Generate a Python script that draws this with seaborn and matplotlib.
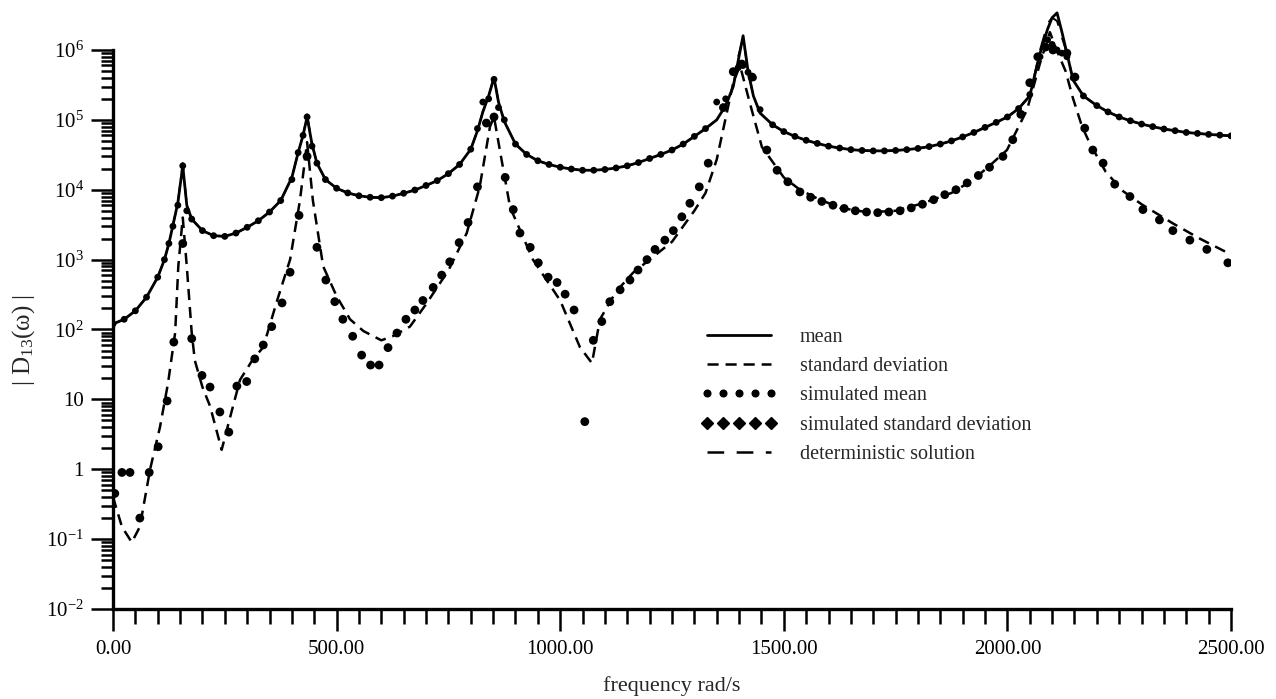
import numpy as np
import matplotlib
matplotlib.use('Agg')
import matplotlib.pyplot as plt
import matplotlib.ticker as mticker
from matplotlib.lines import Line2D
import seaborn as sns

# frequency grid for mean / simulated mean / deterministic curves
freq = [0, 25, 50, 75, 100, 115, 125, 134, 145, 156, 165, 176, 200, 225, 250, 275, 300, 325, 350, 375,
        400, 414, 425, 434, 445, 456, 475, 500, 525, 550, 575, 600, 625, 650, 675, 700, 725, 750, 775, 800,
        815, 827, 840, 852, 862, 875, 900, 925, 950, 975, 1000, 1025, 1050, 1075, 1100, 1125, 1150, 1175,
        1200, 1225, 1250, 1275, 1300, 1325, 1350, 1370, 1387, 1398, 1409, 1420, 1432, 1447, 1475, 1500,
        1525, 1550, 1575, 1600, 1625, 1650, 1675, 1700, 1725, 1750, 1775, 1800, 1825, 1850, 1875, 1900,
        1925, 1950, 1975, 2000, 2025, 2050, 2073, 2090, 2100, 2111, 2122, 2133, 2147, 2170, 2200, 2225,
        2250, 2275, 2300, 2325, 2350, 2375, 2400, 2425, 2450, 2475, 2500]

mean = [120, 140, 185, 290, 560, 1000, 1700, 3100, 6500, 22000, 6000, 3800, 2600, 2200, 2150, 2400, 2900, 3600, 4800, 7000,
        15000, 34000, 60000, 110000, 45000, 24000, 14000, 10500, 9000, 8200, 7800, 7700, 8100, 8900, 9900, 11500, 13500, 17000, 23000, 38000,
        70000, 130000, 220000, 400000, 180000, 95000, 45000, 32000, 26000, 23000, 21000, 19800, 19000, 19000, 19500, 20500, 22000, 24500,
        28000, 32000, 37000, 45000, 58000, 75000, 100000, 160000, 300000, 700000, 1600000, 500000, 220000, 125000, 85000, 68000,
        58000, 51000, 46000, 42000, 39500, 37500, 36500, 36000, 36000, 36500, 37500, 39000, 41500, 45000, 50000, 57000,
        66000, 78000, 92000, 110000, 145000, 220000, 900000, 2000000, 2900000, 3400000, 1800000, 900000, 370000, 220000, 160000, 130000,
        110000, 97000, 87000, 80000, 74000, 70000, 66000, 64000, 62000, 60500, 59000]

sim_mean = [120, 140, 185, 290, 560, 1000, 1700, 3000, 6000, 22000, 5000, 3800, 2600, 2200, 2150, 2400, 2900, 3600, 4800, 7000,
            14000, 34000, 60000, 110000, 42000, 24000, 14000, 10500, 9000, 8200, 7800, 7700, 8100, 8900, 9900, 11500, 13500, 17000, 23000, 38000,
            75000, 180000, 200000, 380000, 150000, 100000, 45000, 32000, 26000, 23000, 21000, 19800, 19000, 19000, 19500, 20500, 22000, 24500,
            28000, 32000, 37000, 45000, 58000, 75000, 180000, 200000, 480000, 560000, 600000, 480000, 400000, 140000, 85000, 68000,
            58000, 51000, 46000, 42000, 39500, 37500, 36500, 36000, 36000, 36500, 37500, 39000, 41500, 45000, 50000, 57000,
            66000, 78000, 92000, 110000, 145000, 230000, 800000, 1400000, 1200000, 1000000, 900000, 800000, 400000, 220000, 160000, 130000,
            110000, 97000, 87000, 80000, 74000, 70000, 66000, 64000, 62000, 60500, 59000]

deterministic = [120, 140, 185, 290, 560, 1000, 1700, 3100, 6500, 24000, 6000, 3800, 2600, 2200, 2150, 2400, 2900, 3600, 4800, 7000,
                 15000, 34000, 60000, 120000, 45000, 24000, 14000, 10500, 9000, 8200, 7800, 7700, 8100, 8900, 9900, 11500, 13500, 17000, 23000, 38000,
                 70000, 130000, 220000, 420000, 180000, 95000, 45000, 32000, 26000, 23000, 21000, 19800, 19000, 19000, 19500, 20500, 22000, 24500,
                 28000, 32000, 37000, 45000, 58000, 75000, 100000, 160000, 300000, 800000, 1500000, 500000, 220000, 125000, 85000, 68000,
                 58000, 51000, 46000, 42000, 39500, 37500, 36500, 36000, 36000, 36500, 37500, 39000, 41500, 45000, 50000, 57000,
                 66000, 78000, 92000, 110000, 145000, 220000, 1000000, 2400000, 2900000, 2600000, 1500000, 900000, 370000, 220000, 160000, 130000,
                 110000, 97000, 87000, 80000, 74000, 70000, 66000, 64000, 62000, 60500, 59000]

# standard deviation (analytical)
std_freq = [0, 20, 42, 60, 83, 105, 123, 139, 146, 156, 165, 176, 183, 200, 217, 243, 266, 284, 310, 336,
            367, 396, 418, 434, 447, 470, 500, 530, 560, 600, 625, 664, 700, 750, 791, 820, 843, 852, 865, 888,
            939, 1000, 1044, 1071, 1089, 1125, 1163, 1200, 1250, 1275, 1300, 1325, 1350, 1387, 1402, 1424, 1451, 1500,
            1536, 1575, 1626, 1675, 1700, 1750, 1811, 1875, 1923, 1960, 1999, 2044, 2073, 2095, 2110, 2130, 2147, 2167,
            2185, 2220, 2259, 2300, 2370, 2430, 2498]
std = [0.4, 0.15, 0.09, 0.15, 1.0, 4, 17, 90, 800, 4000, 800, 90, 36, 15, 8, 1.9, 7, 19, 35, 56,
       260, 1000, 7000, 48000, 7000, 800, 300, 140, 95, 70, 80, 110, 230, 700, 2400, 11000, 80000, 110000, 37000, 5600,
       1000, 260, 56, 33, 140, 350, 650, 1000, 1800, 3000, 5000, 9000, 27000, 340000, 600000, 175000, 41000, 15000,
       10000, 7500, 5500, 4900, 4800, 5000, 6400, 9000, 13800, 22000, 37000, 140000, 650000, 1800000, 1000000, 500000, 200000, 80000,
       45000, 18000, 9500, 6200, 3300, 2000, 1200]

# simulated standard deviation
sim_std_freq = [4, 20, 38, 60, 81, 101, 121, 136, 156, 176, 199, 217, 239, 259, 277, 299, 317, 336, 355, 378,
                396, 416, 434, 456, 476, 496, 514, 536, 556, 576, 595, 615, 635, 655, 675, 693, 716, 735, 753, 774,
                794, 815, 835, 852, 877, 895, 910, 933, 951, 973, 993, 1011, 1031, 1055, 1074, 1093, 1111, 1134, 1156, 1174,
                1194, 1212, 1234, 1253, 1272, 1290, 1311, 1331, 1365, 1387, 1406, 1429, 1462, 1485, 1509, 1536, 1560, 1585,
                1610, 1635, 1660, 1685, 1710, 1735, 1760, 1785, 1810, 1835, 1860, 1885, 1910, 1935, 1960, 1990, 2012, 2030,
                2050, 2068, 2085, 2102, 2133, 2151, 2173, 2191, 2214, 2240, 2274, 2303, 2340, 2370, 2408, 2446, 2493]
sim_std = [0.45, 0.9, 0.9, 0.2, 0.9, 2.1, 9.5, 66, 1700, 74, 22, 15, 6.6, 3.4, 15.5, 18, 38, 60, 110, 240,
           660, 4300, 30000, 1500, 510, 250, 140, 80, 43, 31, 31, 55, 89, 140, 190, 260, 400, 600, 930, 1750,
           3400, 11000, 90000, 110000, 15000, 5200, 2400, 1500, 900, 560, 470, 320, 190, 4.8, 70, 130, 250, 370, 510, 710,
           1000, 1400, 1900, 2600, 4100, 6400, 11000, 24000, 150000, 490000, 630000, 410000, 37000, 19000, 13000, 9300, 7800, 6800,
           6000, 5400, 5000, 4800, 4700, 4800, 5000, 5500, 6200, 7200, 8500, 10000, 12500, 16000, 21000, 30000, 52000, 120000,
           340000, 800000, 1100000, 1000000, 900000, 410000, 76000, 37000, 24000, 12000, 8000, 5200, 3700, 2600, 1900, 1400, 900]

x_ticks = [0, 500, 1000, 1500, 2000, 2500]
y_ticks = [1e-2, 1e-1, 1, 10, 1e2, 1e3, 1e4, 1e5, 1e6]
y_tick_labels = [r'$10^{-2}$', r'$10^{-1}$', '1', '10', r'$10^{2}$', r'$10^{3}$', r'$10^{4}$', r'$10^{5}$', r'$10^{6}$']

sns.set_style('white')
plt.rcParams['font.family'] = ['Liberation Serif', 'DejaVu Serif']
plt.rcParams['mathtext.fontset'] = 'custom'
plt.rcParams['mathtext.rm'] = 'Liberation Serif'
plt.rcParams['mathtext.it'] = 'Liberation Serif:italic'
plt.rcParams['mathtext.default'] = 'regular'
plt.rcParams['lines.scale_dashes'] = False

W, H = 1276, 699
fig = plt.figure(figsize=(W / 100, H / 100), dpi=100)
x0, x1, ybot = 113, 1231, 609
ax = fig.add_axes([x0 / W, (H - ybot) / H, (x1 - x0) / W, ybot / H])
ax.set_yscale('log')
ax.set_xlim(0, 2500)
ax.set_ylim(1e-2, 10 ** (6 + 50 / 69.9))

sns.lineplot(x=freq, y=mean, ax=ax, color='black', lw=2.0, sort=False)
sns.lineplot(x=freq, y=deterministic, ax=ax, color='black', lw=1.4, linestyle=(0, (12, 9)), sort=False)
sns.lineplot(x=std_freq, y=std, ax=ax, color='black', lw=1.8, linestyle=(0, (8, 5)), sort=False)
sns.scatterplot(x=freq, y=sim_mean, ax=ax, color='black', s=24, marker='o', edgecolor='none')
sns.scatterplot(x=sim_std_freq, y=sim_std, ax=ax, color='black', s=40, marker='o', edgecolor='none')

for s in ['top', 'right']:
    ax.spines[s].set_visible(False)
for s in ['left', 'bottom']:
    ax.spines[s].set_linewidth(2.4)
    ax.spines[s].set_color('black')
ax.spines['left'].set_bounds(1e-2, 1e6)
ax.spines['bottom'].set_bounds(0, 2500)

ax.xaxis.set_major_locator(mticker.FixedLocator(x_ticks))
ax.xaxis.set_minor_locator(mticker.MultipleLocator(50))
ax.set_xticklabels(['%.2f' % v for v in x_ticks])
ax.yaxis.set_major_locator(mticker.FixedLocator(y_ticks))
ax.yaxis.set_minor_locator(mticker.FixedLocator([k * 10.0 ** e for e in range(-2, 6) for k in range(2, 10)]))
ax.set_yticklabels(y_tick_labels)
ax.tick_params(axis='both', which='major', direction='out', length=16, width=1.8, color='black',
               labelsize=15, labelcolor='black')
ax.tick_params(axis='x', which='major', pad=6)
ax.tick_params(axis='y', which='major', pad=5)
ax.tick_params(axis='x', which='minor', direction='out', length=11, width=1.8, color='black')
ax.tick_params(axis='y', which='minor', direction='out', length=9, width=1.8, color='black')
ax.tick_params(left=True, bottom=True, which='both')
ax.set_xlabel('')
ax.set_ylabel('')

fig.text((x0 + x1) / 2 / W, 1 - 686 / H, 'frequency rad/s', ha='center', va='center', fontsize=16)
fig.text(24 / W, 1 - 340 / H, r'| D$_{13}$(ω) |', ha='center', va='center', rotation=90, fontsize=18)

handles = [
    Line2D([], [], color='black', lw=2.0),
    Line2D([], [], color='black', lw=1.8, linestyle=(0, (8, 5))),
    Line2D([], [], color='black', linestyle='none', marker='o', markersize=4.8),
    Line2D([], [], color='black', linestyle='none', marker='D', markersize=5.8),
    Line2D([], [], color='black', lw=1.8, linestyle=(0, (12, 9))),
]
labels = ['mean', 'standard deviation', 'simulated mean', 'simulated standard deviation', 'deterministic solution']
fig.legend(handles, labels, loc='upper left', bbox_to_anchor=(701 / W, 1 - 328 / H), frameon=False,
           numpoints=5, handlelength=3.8, handletextpad=1.1, labelspacing=0.5, borderpad=0,
           borderaxespad=0, fontsize=14.5)

fig.savefig('out.png', dpi=100)
